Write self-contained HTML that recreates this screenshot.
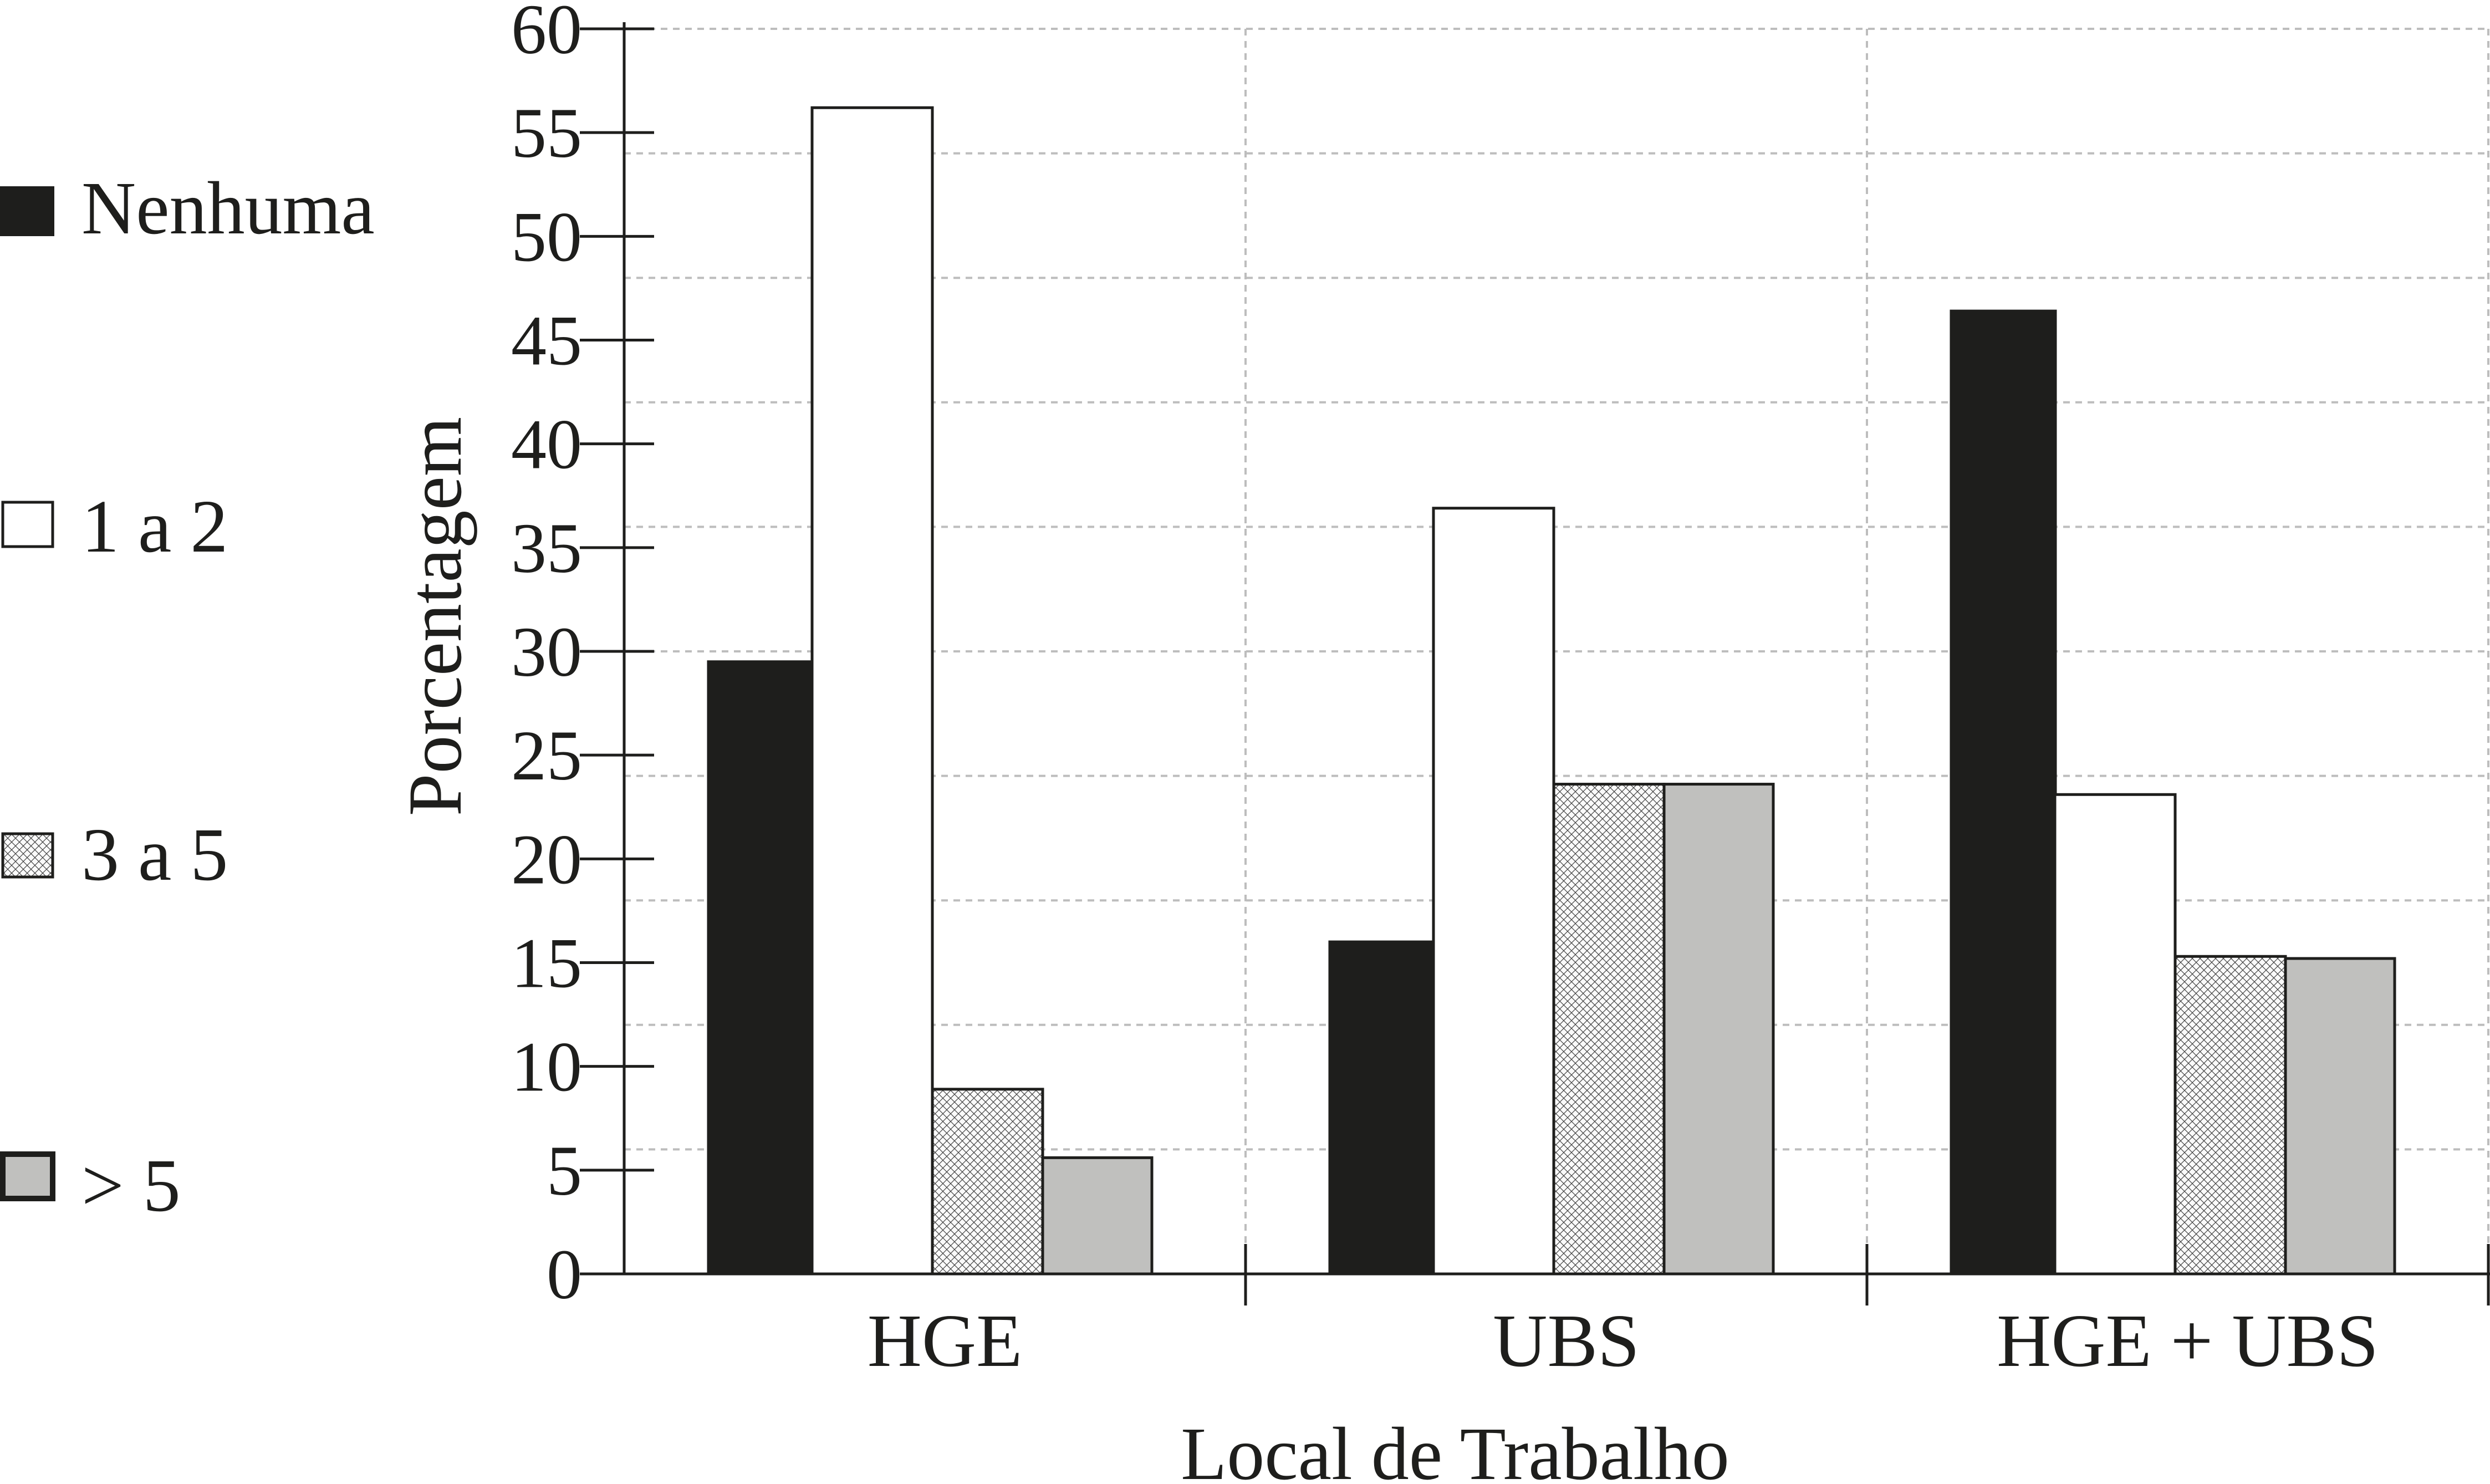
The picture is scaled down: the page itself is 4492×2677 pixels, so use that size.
<!DOCTYPE html>
<html><head><meta charset="utf-8"><style>
html,body{margin:0;padding:0;background:#fff;}
svg{display:block;font-family:"Liberation Serif",serif;}
</style></head><body>
<svg id="chart" width="4492" height="2677" viewBox="0 0 4492 2677" xmlns="http://www.w3.org/2000/svg">
<defs>
<pattern id="hatch" width="14" height="14" patternUnits="userSpaceOnUse">
<rect width="14" height="14" fill="#fafafa"/>
<path d="M0,0 L14,14 M14,0 L0,14" stroke="#444" stroke-width="1.2"/>
</pattern>
</defs>
<g id="grid"></g>
<g id="bars"></g>
<g id="axes"></g>
<g>
<rect x="0" y="336" width="98" height="90" fill="#1e1e1c"/>
<text x="147" y="421" font-size="136" fill="#1e1e1c">Nenhuma</text>
<rect x="5" y="906" width="90" height="80" fill="#fff" stroke="#1e1e1c" stroke-width="5"/>
<text x="147" y="995" font-size="136" fill="#1e1e1c">1 a 2</text>
<rect x="5" y="1504" width="90" height="78" fill="url(#hatch)" stroke="#1e1e1c" stroke-width="5"/>
<text x="147" y="1587" font-size="136" fill="#1e1e1c">3 a 5</text>
<rect x="5" y="2082" width="90" height="80" fill="#c0c0be" stroke="#1e1e1c" stroke-width="10"/>
<text x="147" y="2184" font-size="136" fill="#1e1e1c">&gt; 5</text>
</g>
<text transform="translate(831,1112) rotate(-90)" text-anchor="middle" font-size="138" fill="#1e1e1c">Porcentagem</text>
<text x="2625" y="2668" text-anchor="middle" font-size="136" fill="#1e1e1c">Local de Trabalho</text>
</svg>
<script>
const categories = ["HGE", "UBS", "HGE + UBS"];
const seriesNames = ["Nenhuma", "1 a 2", "3 a 5", "> 5"];
const nenhuma = [29.5, 16.0, 46.4];
const umADois = [56.2, 36.9, 23.1];
const tresACinco = [8.9, 23.6, 15.3];
const maisDeCinco = [5.6, 23.6, 15.2];
const yTicks = [0, 5, 10, 15, 20, 25, 30, 35, 40, 45, 50, 55, 60];
const yGrid = [6, 12, 18, 24, 30, 36, 42, 48, 54, 60];

const NS = "http://www.w3.org/2000/svg";
const x0 = 1126, catW = 1121, y0 = 2298, yTop = 52, yMax = 60;
function yScale(v){ return y0 - (v / yMax) * (y0 - yTop); }
function xCat(i){ return x0 + i * catW; }
const series = [nenhuma, umADois, tresACinco, maisDeCinco];
const fills = ["#1e1e1c", "#ffffff", "url(#hatch)", "#c0c0be"];
const offs = [152, 339, 556, 755];
const widths = [188, 217, 199, 197];
function mk(tag, attrs, parent){
  const e = document.createElementNS(NS, tag);
  for (const k in attrs) e.setAttribute(k, attrs[k]);
  parent.appendChild(e); return e;
}
const grid = document.getElementById("grid");
yGrid.forEach(v => {
  const l = mk("line", {x1: x0, x2: 4492, y1: yScale(v), y2: yScale(v), stroke: "#bdbdbd", "stroke-width": 4, "stroke-dasharray": "12 10"}, grid);
  
  
});
for (let i = 1; i <= categories.length; i++) {
  const l = mk("line", {x1: xCat(i), x2: xCat(i), y1: yTop, y2: y0, stroke: "#bdbdbd", "stroke-width": 4, "stroke-dasharray": "12 10"}, grid);
  
  
}
const bars = document.getElementById("bars");
categories.forEach((c, i) => {
  series.forEach((s, j) => {
    const yv = yScale(s[i]);
    const r = mk("rect", {x: xCat(i) + offs[j], y: yv, width: widths[j], height: y0 - yv, fill: fills[j], stroke: "#1e1e1c", "stroke-width": 5}, bars);
    
    
  });
});
const axes = document.getElementById("axes");
const ya = mk("line", {x1: x0, x2: x0, y1: 40, y2: y0, stroke: "#1e1e1c", "stroke-width": 5}, axes);


const xa = mk("line", {x1: x0, x2: 4492, y1: y0, y2: y0, stroke: "#1e1e1c", "stroke-width": 5}, axes);


yTicks.forEach(v => {
  const t = mk("line", {x1: 1046, x2: 1180, y1: yScale(v), y2: yScale(v), stroke: "#1e1e1c", "stroke-width": 5}, axes);
  
  
  const tx = mk("text", {x: 1050, y: yScale(v) + 44, "text-anchor": "end", "font-size": 128, fill: "#1e1e1c"}, axes);
  tx.textContent = v;
  
  
});
for (let i = 1; i <= categories.length; i++) {
  const t = mk("line", {x1: xCat(i), x2: xCat(i), y1: 2244, y2: 2355, stroke: "#1e1e1c", "stroke-width": 5}, axes);
  
  
}
categories.forEach((c, i) => {
  const tx = mk("text", {x: xCat(i) + catW/2 + 18, y: 2464, "text-anchor": "middle", "font-size": 136, fill: "#1e1e1c"}, axes);
  tx.textContent = c;
  
  
});
</script>
</body></html>
